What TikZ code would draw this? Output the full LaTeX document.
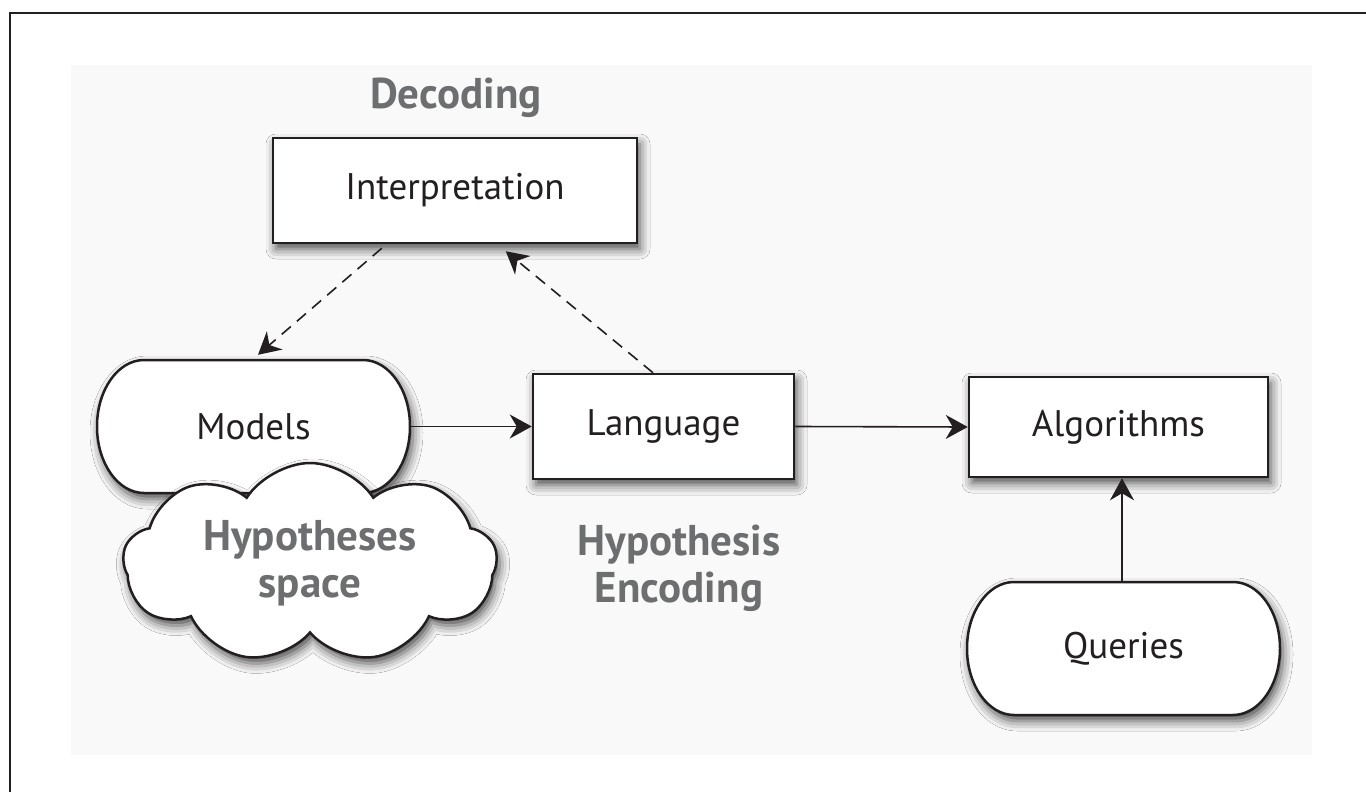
\documentclass[tikz,border=0pt]{standalone}
\usepackage{fontspec}
\setmainfont{PT Sans}
\usetikzlibrary{arrows.meta,shapes.symbols,shadows.blur,calc}
\definecolor{labgray}{RGB}{109,110,112}
\definecolor{panel}{RGB}{249,249,249}
\definecolor{ink}{RGB}{35,31,32}
\newcommand\pillpath[1]{%
  \path[pillline] ($(#1)+(-109.5,-66.5)$) -- ($(#1)+(109.5,-66.5)$)
    arc[start angle=90,end angle=-90,x radius=47pt,y radius=66.5pt]
    -- ($(#1)+(-109.5,66.5)$)
    arc[start angle=270,end angle=90,x radius=47pt,y radius=66.5pt] -- cycle;}
\begin{document}
\begin{tikzpicture}[x=1pt,y=-1pt,
  font=\fontsize{37}{44}\selectfont,
  shadowed/.style={blur shadow={shadow xshift=3pt, shadow yshift=-6pt, shadow blur radius=10pt, shadow opacity=70}},
  box/.style={draw=ink, line width=2.5pt, fill=white, inner sep=0pt, shadowed, text=ink},
  pillnode/.style={inner sep=0pt, minimum width=313pt, minimum height=133pt, text=ink},
  pillline/.style={draw=ink, line width=2.5pt, fill=white, shadowed},
  arr/.style={draw=ink, line width=1.6pt, -{Stealth[length=22pt, width=24pt, inset=7pt]}},
  darr/.style={arr, dash pattern=on 12pt off 8pt},
  lab/.style={text=labgray, font=\fontsize{43}{47}\selectfont\bfseries, align=center}
]
\useasboundingbox (0,0) rectangle (1366,792);
\draw[line width=2.5pt, ink] (10,800) -- (10,13) -- (1372,13);
\fill[panel] (71,65) rectangle (1312,755);

% Models (pill) and its cloud
\coordinate (mc) at (253.5,426.5);
\pillpath{mc}
\node[pillnode] (models) at (mc) {Models};
\node[cloud, draw=ink, line width=2.5pt, fill=white, shadowed, cloud puffs=9,
      cloud puff arc=115, cloud ignores aspect, minimum width=374pt, minimum height=200pt,
      inner sep=0pt, lab] (hyp) at (310,563) {Hypotheses\\space};

% Queries (pill)
\coordinate (qc) at (1123.5,648.5);
\pillpath{qc}
\node[pillnode] (queries) at (qc) {Queries};

% boxes
\node[box, minimum width=364pt, minimum height=105pt] (interp) at (455,190.5) {Interpretation};
\node[box, minimum width=261pt, minimum height=105pt] (lang) at (663.5,426.5) {Language};
\node[box, minimum width=299pt, minimum height=100pt] (alg) at (1118.5,427) {Algorithms};

% labels
\node[lab] (dec) at (456,98) {Decoding};
\node[lab] (enc) at (679,568) {Hypothesis\\Encoding};

% connectors
\draw[arr] (models.east) -- (lang.west);
\draw[arr] (lang.east) -- (alg.west);
\draw[arr] ([xshift=-1.5pt]queries.north) -- ([xshift=-1.5pt]queries.north |- alg.south);
\draw[darr] ([shift={(110,4)}]interp.south west) -- ([shift={(4.5,-5)}]models.north);
\draw[darr] ([xshift=-10.5pt]lang.north) -- ([shift={(234,7)}]interp.south west);
\end{tikzpicture}
\end{document}
